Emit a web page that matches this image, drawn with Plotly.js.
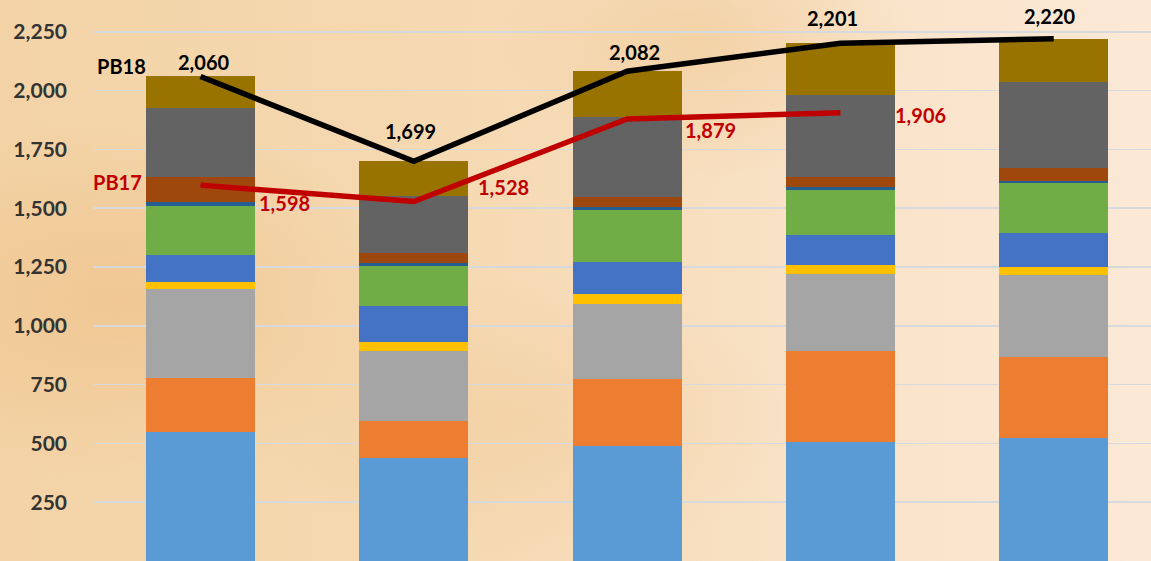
<!DOCTYPE html>
<html>
<head>
<meta charset="utf-8">
<script src="https://cdn.plot.ly/plotly-3.0.1.min.js"></script>
<style>
  html, body { margin: 0; padding: 0; }
  body {
    width: 1151px; height: 561px; overflow: hidden;
    background:
      radial-gradient(ellipse 420px 260px at 120px 300px, rgba(236,188,128,0.55), rgba(236,188,128,0) 70%),
      radial-gradient(ellipse 380px 200px at 520px 420px, rgba(240,200,150,0.45), rgba(240,200,150,0) 70%),
      radial-gradient(ellipse 300px 200px at 700px 40px, rgba(238,196,140,0.5), rgba(238,196,140,0) 70%),
      linear-gradient(90deg, #f3d3a6 0%, #f5d9b2 40%, #f9e3c9 75%, #fbe9d6 100%);
  }
  #chart { width: 1151px; height: 561px; }
</style>
</head>
<body>
<div id="chart"></div>
<script>
// Categories (five bars; no axis labels are shown in the reference)
const categories = ["C1", "C2", "C3", "C4", "C5"];

// Stacked segment values, bottom to top
const seg1 = [550, 436, 487, 504, 521];   // light blue
const seg2 = [229, 161, 287, 389, 346];   // orange
const seg3 = [379, 294, 319, 328, 347];   // gray
const seg4 = [28, 39, 42, 38, 38];        // yellow
const seg5 = [113, 152, 136, 129, 142];   // blue
const seg6 = [210, 173, 222, 190, 215];   // green
const seg7 = [16, 12, 11, 11, 8];         // navy
const seg8 = [107, 42, 43, 43, 53];       // brown
const seg9 = [294, 241, 340, 348, 365];   // dark gray
const seg10 = [134, 149, 195, 221, 185];  // olive

// Line series
const pb18 = [2060, 1699, 2082, 2201, 2220];
const pb17 = [1598, 1528, 1879, 1906];

// Y tick values
const yTicks = [250, 500, 750, 1000, 1250, 1500, 1750, 2000, 2250];

// ---- styling (kept separate from data) ----
const segColors = ["#5B9BD5", "#ED7D31", "#A5A5A5", "#FFC000", "#4472C4",
                   "#70AD47", "#255E91", "#9E480E", "#636363", "#997300"];
const segs = [seg1, seg2, seg3, seg4, seg5, seg6, seg7, seg8, seg9, seg10];
const FONT = "Lato, 'Open Sans', sans-serif";

const traces = segs.map((vals, i) => ({
  type: "bar",
  x: categories,
  y: vals,
  name: "Series " + (i + 1),
  marker: { color: segColors[i], line: { width: 0 } },
  hoverinfo: "skip"
}));

traces.push({
  type: "scatter", mode: "lines", x: categories, y: pb18, name: "PB18",
  line: { color: "#000000", width: 5.5 }, hoverinfo: "skip"
});
traces.push({
  type: "scatter", mode: "lines", x: categories.slice(0, pb17.length), y: pb17, name: "PB17",
  line: { color: "#C00000", width: 5.5 }, hoverinfo: "skip"
});

const fmt = v => v.toLocaleString("en-US");

// label offsets in pixels [xshift, yshift]
const pb18Off = [[3, 14], [-3, 30], [7, 19], [-8, 25], [-4, 23]];
const pb17Off = [[84, -18], [90, 15], [83, -11], [80, -2]];

const annotations = [];
pb18.forEach((v, i) => annotations.push({
  x: categories[i], y: v, xref: "x", yref: "y", text: fmt(v), showarrow: false,
  xshift: pb18Off[i][0], yshift: pb18Off[i][1],
  font: { family: FONT, size: 20, color: "#000000", weight: "bold" }
}));
pb17.forEach((v, i) => annotations.push({
  x: categories[i], y: v, xref: "x", yref: "y", text: fmt(v), showarrow: false,
  xshift: pb17Off[i][0], yshift: pb17Off[i][1],
  font: { family: FONT, size: 20, color: "#C00000", weight: "bold" }
}));
annotations.push({
  x: categories[0], y: pb18[0], xref: "x", yref: "y", text: "PB18", showarrow: false,
  xanchor: "right", xshift: -53, yshift: 10,
  font: { family: FONT, size: 20, color: "#000000", weight: "bold" }
});
annotations.push({
  x: categories[0], y: pb17[0], xref: "x", yref: "y", text: "PB17", showarrow: false,
  xanchor: "right", xshift: -57, yshift: 3,
  font: { family: FONT, size: 20, color: "#C00000", weight: "bold" }
});

const layout = {
  width: 1151, height: 561,
  margin: { l: 93, r: 0, t: 0, b: 0, pad: 0 },
  paper_bgcolor: "rgba(0,0,0,0)",
  plot_bgcolor: "rgba(0,0,0,0)",
  barmode: "stack",
  bargap: 0.489,
  showlegend: false,
  xaxis: {
    type: "category", range: [-0.504, 4.456],
    showticklabels: false, showgrid: false, zeroline: false, showline: false, ticks: ""
  },
  yaxis: {
    range: [0, 2385], tickvals: yTicks, tickformat: ",",
    showgrid: true, gridcolor: "#D6D9DE", gridwidth: 1.5,
    zeroline: false, showline: false, ticks: "",
    ticklabelstandoff: 25,
    tickfont: { family: FONT, size: 21, color: "#333333", weight: "bold" }
  },
  annotations: annotations
};

Plotly.newPlot("chart", traces, layout, { displayModeBar: false, staticPlot: true });
</script>
</body>
</html>
